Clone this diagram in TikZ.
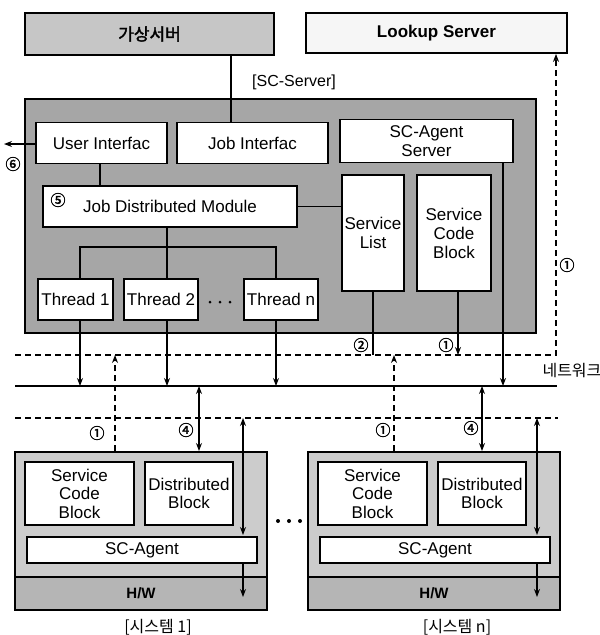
\documentclass[tikz,border=0pt]{standalone}
\usepackage{fontspec}
\setmainfont{Liberation Sans}
\newfontfamily\kr{Noto Sans CJK KR}
\newfontfamily\krb{Noto Sans CJK KR}[FakeBold=2]
\usetikzlibrary{arrows.meta,positioning,calc}

\begin{document}
\begin{tikzpicture}[x=1pt, y=-1pt, >={Stealth[length=8pt,width=6pt]}]
    \tikzstyle{every node}=[font=\fontsize{17}{19}\selectfont]
    \tikzstyle{panel}=[draw, inner sep=0pt]
    \tikzstyle{blk}=[draw, line width=1.3pt, fill=white, inner sep=0pt, align=center]
    \tikzstyle{circnum}=[font=\krb\fontsize{15}{15}\selectfont, inner sep=0pt]
    \tikzstyle{wire}=[line width=1.2pt]
    \tikzstyle{dsh}=[line width=1.2pt, dash pattern=on 6pt off 4pt]
    \useasboundingbox (0,0) rectangle (600,635);

    % top servers
    \node [panel, line width=1.8pt, fill=gray!45, minimum width=249, minimum height=42] (vm) at (149.5,34) {\krb 가상서버};
    \node [panel, line width=1.8pt, fill=gray!7, minimum width=261, minimum height=40] (lookup) at (436.5,33) {\bfseries Lookup Server};
    \node [font=\fontsize{16}{18}\selectfont] (scs) at (294,82) {[SC-Server]};

    % SC-Server
    \node [panel, line width=2.5pt, fill=gray!70, minimum width=511, minimum height=234] (srv) at (280.5,216) {};
    \node [blk, minimum width=131, minimum height=41] (ui) at (101.5,143) {User Interfac};
    \node [blk, minimum width=151, minimum height=41] (ji) at (252.5,143) {Job Interfac};
    \node [blk, minimum width=173, minimum height=43] (sca) at (426.5,141) {SC-Agent\\Server};
    \node [blk, minimum width=254, minimum height=41] (jdm) at (170,206.5) {Job Distributed Module};
    \node [blk, minimum width=62, minimum height=116] (slist) at (373,233) {Service\\List};
    \node [blk, minimum width=74, minimum height=116] (scb) at (454,233) {Service\\Code\\Block};
    \node [blk, minimum width=75, minimum height=41] (th1) at (75.5,299.5) {Thread 1};
    \node [blk, minimum width=74, minimum height=41] (th2) at (161,299.5) {Thread 2};
    \node [blk, minimum width=74, minimum height=41] (thn) at (281,299.5) {Thread n};
    \node [circnum] (n5) at (58,200) {⑤};
    \node [circnum] (n6) at (13,164) {⑥};
    \foreach \i in {0,1,2} \fill (210+\i*10,302) circle (1.5);

    % columns and rails
    \coordinate (cvm) at (231,0);
    \coordinate (cui) at (100,0);
    \coordinate (ct1) at (80,0);
    \coordinate (ct2) at (167,0);
    \coordinate (ctn) at (276,0);
    \coordinate (csa) at (503,0);
    \coordinate (csl) at (373,0);
    \coordinate (csc) at (458,0);
    \coordinate (bus) at (0,247);
    \coordinate (out6) at (4,144);
    \coordinate (upL) at (15,355);
    \coordinate (upR) at (556,355);
    \coordinate (netL) at (15,386);
    \coordinate (netR) at (557,386);
    \coordinate (loL) at (15,418);
    \coordinate (loR) at (558,418);

    \draw [wire] (vm.south -| cvm) -- (ji.north -| cvm);
    \draw [wire] (ui.south -| cui) -- (jdm.north -| cui);
    \draw [wire, ->] (ui.west |- out6) -- (out6);
    \draw [wire] (jdm.east) -- (slist.west |- jdm.east);
    \draw [wire] (jdm.south -| ct2) -- (th2.north -| ct2);
    \draw [wire] (th1.north -| ct1) -- (bus -| ct1) -- (bus -| ctn) -- (thn.north -| ctn);

    % network
    \draw [wire] (netL) -- (netR);
    \node [anchor=west, font=\kr\fontsize{16}{16}\selectfont] (net) at (539,371) {네트워크};
    \draw [dsh, ->] (upL) -- (upR) -- (lookup.south -| upR);
    \draw [dsh] (loL) -- (loR);
    \node [circnum] (n1a) at (567,265) {①};
    \foreach \c in {ct1,ct2,ctn} \draw [wire, ->] (th1.south -| \c) -- (netL -| \c);
    \draw [wire, ->] (sca.south -| csa) -- (netL -| csa);
    \draw [wire] (slist.south -| csl) -- (upL -| csl);
    \draw [wire, ->] (scb.south -| csc) -- (upL -| csc);
    \node [circnum] (n2) at (361,345) {②};
    \node [circnum] (n1b) at (446,345) {①};

    % system 1
    \node [panel, line width=2pt, fill=gray!40, minimum width=252, minimum height=158] (sys1) at (141,531) {};
    \node [panel, line width=1.5pt, fill=gray!58, minimum width=252, minimum height=33, font=\bfseries\fontsize{15}{15}\selectfont] (hw1) at (141,593.5) {H/W};
    \node [blk, minimum width=109, minimum height=63, font=\fontsize{17}{18.5}\selectfont] (scb1) at (79.5,493.5) {Service\\Code\\Block};
    \node [blk, minimum width=88, minimum height=63, font=\fontsize{17}{18.5}\selectfont] (db1) at (189,493.5) {Distributed\\Block};
    \node [blk, minimum width=230, minimum height=26] (ag1) at (142,550) {SC-Agent};
    \node [font=\kr\fontsize{16}{16}\selectfont] (lab1) at (158,627) {[시스템 1]};

    % system n
    \node [panel, line width=2pt, fill=gray!40, minimum width=252, minimum height=158] (sysn) at (434,531) {};
    \node [panel, line width=1.5pt, fill=gray!58, minimum width=252, minimum height=33, font=\bfseries\fontsize{15}{15}\selectfont] (hwn) at (434,593.5) {H/W};
    \node [blk, minimum width=109, minimum height=63, font=\fontsize{17}{18.5}\selectfont] (scbn) at (372.5,493.5) {Service\\Code\\Block};
    \node [blk, minimum width=88, minimum height=63, font=\fontsize{17}{18.5}\selectfont] (dbn) at (482,493.5) {Distributed\\Block};
    \node [blk, minimum width=230, minimum height=26] (agn) at (435,550) {SC-Agent};
    \node [font=\kr\fontsize{16}{16}\selectfont] (labn) at (457,627) {[시스템 n]};
    \foreach \i in {0,1,2} \fill (278+\i*11,521) circle (2);

    % system links
    \coordinate (cq1) at (115,0);
    \coordinate (cd1) at (199,0);
    \coordinate (cr1) at (243,0);
    \coordinate (cqn) at (394,0);
    \coordinate (cdn) at (482,0);
    \coordinate (crn) at (537,0);
    \coordinate (hwtip) at (0,597);
    \foreach \s/\q/\d/\r in {sys1/cq1/cd1/cr1, sysn/cqn/cdn/crn} {
        \draw [dsh, ->] (\s.north -| \q) -- (upL -| \q);
        \draw [wire, <->] (\s.north -| \d) -- (netL -| \d);
        \draw [wire, <->] (loL -| \r) -- (\s.north -| \r) -- ++(0,84);
        \draw [wire, ->] (\s.north -| \r) ++(0,111) -- (hwtip -| \r);
    }
    \node [circnum] (n1c) at (97,433) {①};
    \node [circnum] (n4a) at (186,430) {④};
    \node [circnum] (n1d) at (383,430) {①};
    \node [circnum] (n4b) at (471,428) {④};
\end{tikzpicture}
\end{document}
